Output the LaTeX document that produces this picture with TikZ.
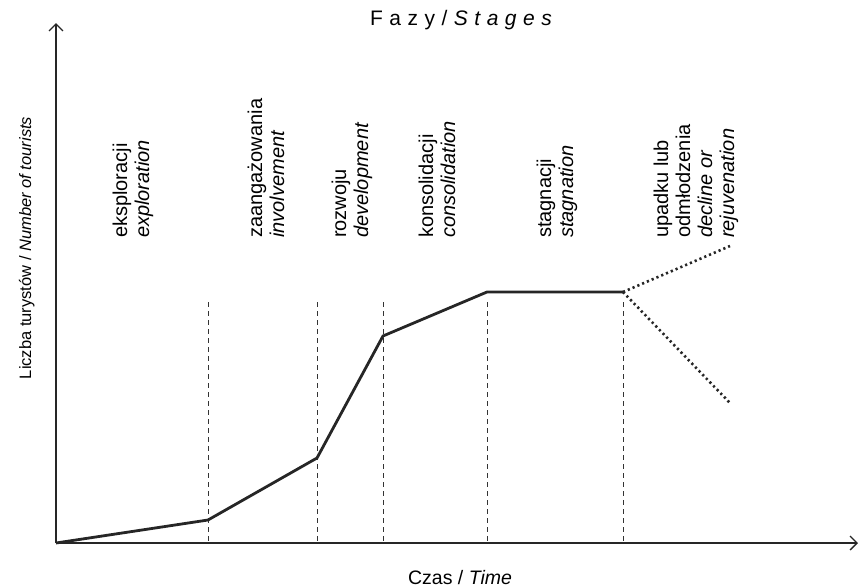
\documentclass[tikz,border=0pt]{standalone}
\usepackage{fontspec}
\setmainfont{Liberation Sans}
\usetikzlibrary{arrows.meta}
\begin{document}
\begin{tikzpicture}[x=1pt,y=-1pt,
  axis/.style={line width=1.3pt,draw=black!85,-{Straight Barb[length=7pt,width=14pt,line width=1.3pt]}},
  curve/.style={line width=2.8pt,draw=black!85,line join=miter},
  dotline/.style={line width=2.6pt,draw=black!85,dash pattern=on 2.2pt off 3pt},
  guide/.style={line width=0.8pt,draw=black!80,dash pattern=on 5pt off 4pt},
  stagelab/.style={rotate=90,anchor=west,align=left,inner sep=0pt,font=\fontsize{20}{22}\selectfont},
  axlab/.style={inner sep=0pt,font=\fontsize{19.5}{22}\selectfont}]
\useasboundingbox (0,0) rectangle (860,587);
% points
\coordinate (o) at (56,543);
\coordinate (ytop) at (56,23);
\coordinate (xend) at (858,543);
\coordinate (p1) at (208,520);
\coordinate (p2) at (317,458);
\coordinate (p3) at (383,336);
\coordinate (p4) at (487,292);
\coordinate (p5) at (623,292);
\coordinate (up) at (730,246);
\coordinate (down) at (730,403);
% guides
\foreach \n/\x in {g1/208,g2/317,g3/383,g4/487,g5/623}{
  \coordinate (\n t) at (\x,302);
  \coordinate (\n b) at (\x,543);
  \draw[guide] (\n t) -- (\n b);
}
% axes
\draw[axis] (o) -- (ytop);
\draw[axis] (o) -- (xend);
% curve
\draw[curve] (o) -- (p1) -- (p2) -- (p3) -- (p4) -- (p5);
\draw[dotline] (p5) -- (up);
\draw[dotline] (p5) -- (down);
% stage labels
\node[stagelab] (l1) at (133,238) {eksploracji\\\textit{exploration}};
\node[stagelab] (l2) at (266,238) {zaangażowania\\\textit{involvement}};
\node[stagelab] (l3) at (352,238) {rozwoju\\\textit{development}};
\node[stagelab] (l4) at (437,238) {konsolidacji\\\textit{consolidation}};
\node[stagelab] (l5) at (557,238) {stagnacji\\\textit{stagnation}};
\node[stagelab] (l6) at (696,238) {upadku lub\\odmłodzenia\\\textit{decline or}\\\textit{rejuvenation}};
% axis labels
\node[axlab,anchor=base] (tx) at (460,584) {Czas / \textit{Time}};
\node[rotate=90,inner sep=0pt,anchor=base,font=\fontsize{16.5}{19}\selectfont] (ty) at (31,248) {Liczba turystów / \textit{Number of tourists}};
\node[inner sep=0pt,anchor=base,font=\fontsize{21}{24}\selectfont] (title) at (461,25)
  {F\kern6.5pt a\kern6.5pt z\kern6.5pt y\kern6.5pt /\kern6.5pt \textit{S\kern6.5pt t\kern6.5pt a\kern6.5pt g\kern6.5pt e\kern6.5pt s}};
\end{tikzpicture}
\end{document}
